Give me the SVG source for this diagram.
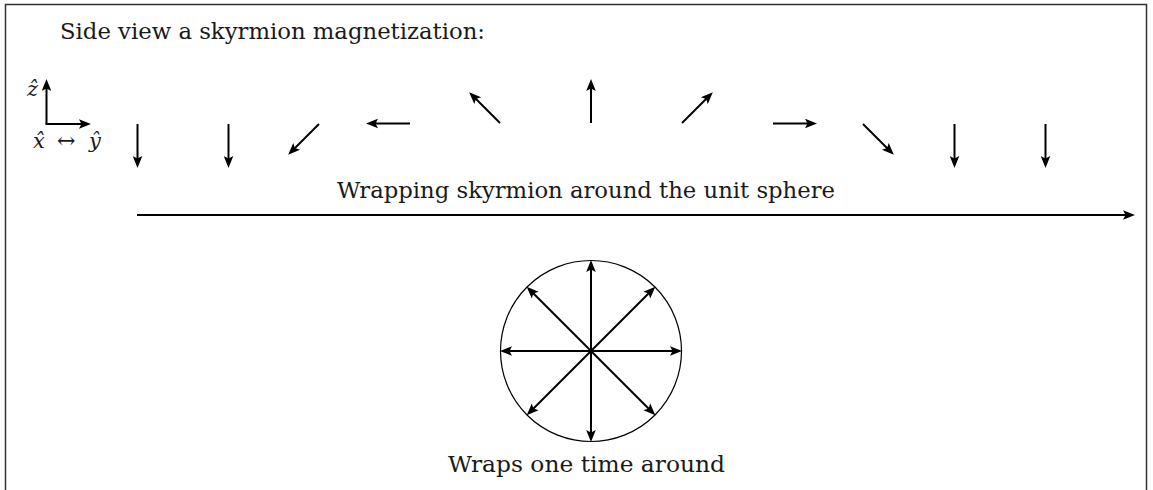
<svg xmlns="http://www.w3.org/2000/svg" width="1153" height="490" viewBox="0 0 1153 490">
<style>
text{font-family:"DejaVu Serif","Liberation Serif",serif;fill:#1a1a1a}
.t{font-size:22px}
.m{font-size:21px;font-style:italic}
.a{stroke:#000;stroke-width:2;fill:none;marker-end:url(#ah)}
.b{stroke:#000;stroke-width:2;fill:none;marker-end:url(#ah);marker-start:url(#ahs)}
</style>
<defs>
<marker id="ah" viewBox="-9 -5 14 10" refX="0" refY="0" markerWidth="14" markerHeight="10" markerUnits="userSpaceOnUse" orient="auto">
<path d="M4,0 L-8,-4.8 L-5.5,0 L-8,4.8 Z" fill="#000"/>
</marker>
<marker id="ahs" viewBox="-9 -5 14 10" refX="0" refY="0" markerWidth="14" markerHeight="10" markerUnits="userSpaceOnUse" orient="auto-start-reverse">
<path d="M4,0 L-8,-4.8 L-5.5,0 L-8,4.8 Z" fill="#000"/>
</marker>
</defs>
<rect width="1153" height="490" fill="#fff"/>
<path d="M5.5,490 V4.5 H1146.5 V490" fill="none" stroke="#333" stroke-width="1.5"/>
<text class="t" x="60" y="38.5" textLength="425" lengthAdjust="spacingAndGlyphs">Side view a skyrmion magnetization:</text>
<g id="axes">
<path class="a" d="M46.5,124 V83"/>
<path class="a" d="M45.5,124 H87"/>
<text class="m" x="27" y="96">ẑ</text>
<text class="m" x="33" y="148">x̂</text>
<text x="57" y="148" font-size="22" font-family="DejaVu Sans,sans-serif">↔</text>
<text class="m" x="89" y="148">ŷ</text>
</g>
<g id="spins">
<path class="a" d="M137.5,124 V164"/>
<path class="a" d="M228.5,124 V164"/>
<path class="a" d="M319,124 L291,152"/>
<path class="a" d="M410,123.5 H370"/>
<path class="a" d="M500,123 L472,95"/>
<path class="a" d="M591,123 V83"/>
<path class="a" d="M682,123 L710,95"/>
<path class="a" d="M773,123.5 H813"/>
<path class="a" d="M863,124 L891,152"/>
<path class="a" d="M954.5,124 V164"/>
<path class="a" d="M1045.5,124 V164"/>
</g>
<g id="wrap">
<path class="a" d="M137,215 H1131"/>
<text class="t" x="337" y="198" textLength="498" lengthAdjust="spacingAndGlyphs">Wrapping skyrmion around the unit sphere</text>
</g>
<g id="sphere">
<circle cx="591" cy="351" r="90.5" fill="none" stroke="#000" stroke-width="1.2"/>
<path class="b" d="M591,264 V438"/>
<path class="b" d="M504,351 H678"/>
<path class="b" d="M529.5,289.5 L652.5,412.5"/>
<path class="b" d="M652.5,289.5 L529.5,412.5"/>
<text class="t" x="448" y="472" textLength="277" lengthAdjust="spacingAndGlyphs">Wraps one time around</text>
</g>
</svg>
